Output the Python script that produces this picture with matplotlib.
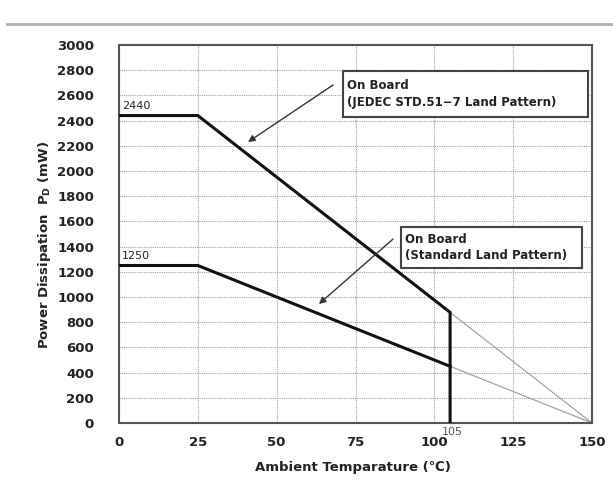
import matplotlib
matplotlib.use("Agg")
import matplotlib.pyplot as plt
from matplotlib.patches import Rectangle
from matplotlib.lines import Line2D

# Data
temps_jedec = [0, 25, 105, 105]
power_jedec = [2440, 2440, 878, 0]
temps_std = [0, 25, 105]
power_std = [1250, 1250, 450]
ext_jedec_t = [105, 150]
ext_jedec_p = [878, 0]
ext_std_t = [105, 150]
ext_std_p = [450, 0]
xticks = [0, 25, 50, 75, 100, 125, 150]
yticks = list(range(0, 3001, 200))

plt.rcParams['font.family'] = ['DejaVu Sans']

fig = plt.figure(figsize=(6.13, 4.83), dpi=100)
ax = fig.add_axes([119/613, 1 - 423/483, 473/613, 378/483])

# separator line on top
fig.add_artist(Line2D([7/613, 1.0], [1 - 24/483, 1 - 24/483], color='#b0b0b0', lw=2))

ax.set_xlim(0, 150)
ax.set_ylim(0, 3000)
ax.set_xticks(xticks)
ax.set_yticks(yticks)
ax.tick_params(length=0, labelsize=9.5, colors='#222222')
ax.tick_params(axis='y', pad=18)
ax.tick_params(axis='x', pad=9)
for lab in ax.get_xticklabels() + ax.get_yticklabels():
    lab.set_fontweight('bold')
ax.grid(True, color='#a0a0a0', linestyle=(0, (1, 1)), lw=0.8)
ax.set_axisbelow(True)
for s in ax.spines.values():
    s.set_color('#555555')
    s.set_linewidth(1.5)

ax.plot(ext_jedec_t, ext_jedec_p, color='#999999', lw=0.8, zorder=2)
ax.plot(ext_std_t, ext_std_p, color='#999999', lw=0.8, zorder=2)
ax.plot(temps_jedec, power_jedec, color='#111111', lw=2.2, zorder=3, solid_joinstyle='miter')
ax.plot(temps_std, power_std, color='#111111', lw=2.2, zorder=3)

ax.text(1, 2475, '2440', fontsize=8, color='#222222', ha='left', va='bottom')
ax.text(1, 1285, '1250', fontsize=8, color='#222222', ha='left', va='bottom')
ax.text(105.6, -70, '105', fontsize=8, color='#555555', ha='center', va='center', clip_on=False)

# annotation boxes
ax.add_patch(Rectangle((71.0, 2429), 148.7 - 71.0, 2794 - 2429, facecolor='white',
                       edgecolor='#444444', lw=1.5, zorder=4))
ax.text(72.4, 2611, 'On Board\n(JEDEC STD.51\u22127 Land Pattern)', fontsize=8.5,
        fontweight='bold', color='#222222', ha='left', va='center', zorder=5, linespacing=1.35)
ax.add_patch(Rectangle((89.4, 1230), 146.8 - 89.4, 1555 - 1230, facecolor='white',
                       edgecolor='#444444', lw=1.5, zorder=4))
ax.text(90.6, 1392, 'On Board\n(Standard Land Pattern)', fontsize=8.5,
        fontweight='bold', color='#222222', ha='left', va='center', zorder=5, linespacing=1.35)

ax.annotate('', xy=(40.9, 2230), xytext=(67.9, 2683),
            arrowprops=dict(arrowstyle='-|>', color='#333333', lw=1, mutation_scale=10,
                            shrinkA=0, shrinkB=0), zorder=5)
ax.annotate('', xy=(63.4, 944), xytext=(86.9, 1460),
            arrowprops=dict(arrowstyle='-|>', color='#333333', lw=1, mutation_scale=10,
                            shrinkA=0, shrinkB=0), zorder=5)

ax.set_xlabel('Ambient Temparature (\u2103)', fontsize=9.5, fontweight='bold', color='#222222')
ax.xaxis.set_label_coords((353 - 119) / 473, -(461 - 423) / 378)
ax.set_ylabel('Power Dissipation  P$_\\mathregular{D}$ (mW)', fontsize=9.5, fontweight='bold',
              color='#222222')
ax.yaxis.set_label_coords(-(119 - 53) / 473, (423 - 245) / 378)

fig.savefig('out.png', dpi=100)
